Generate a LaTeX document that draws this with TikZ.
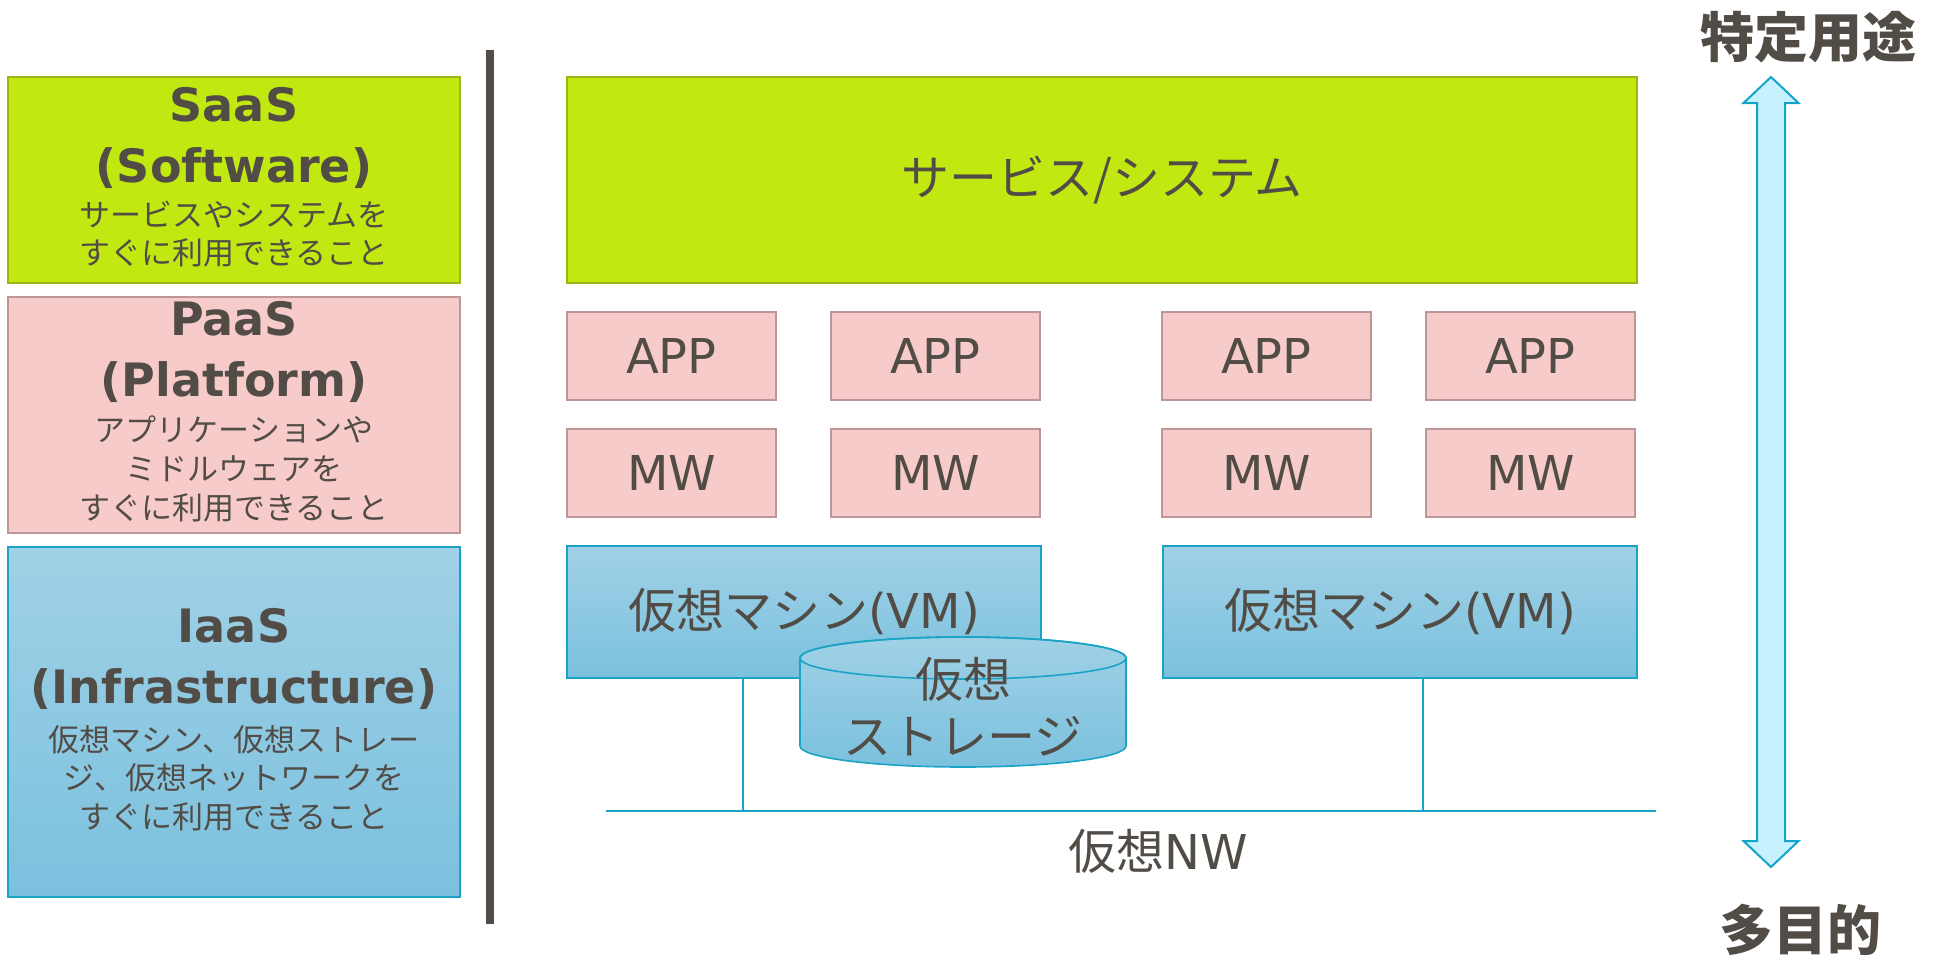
\documentclass[tikz,border=0pt]{standalone}
\usepackage{fontspec}
\setmainfont{DejaVu Sans}
\newfontfamily\jpfont{Noto Sans CJK JP}
\usepackage{tikz}
\usetikzlibrary{positioning}
\definecolor{textgray}{HTML}{524C47}
\definecolor{greenfill}{HTML}{C2E812}
\definecolor{greenline}{HTML}{99B814}
\definecolor{pinkfill}{HTML}{F8CBCB}
\definecolor{pinkline}{HTML}{BD9797}
\definecolor{bluetop}{HTML}{A0D1E6}
\definecolor{bluebot}{HTML}{7BC1DE}
\definecolor{blueline}{HTML}{1BA3C6}
\definecolor{arrowfill}{HTML}{C7F1FC}
\definecolor{arrowline}{HTML}{12A5CA}
\tikzstyle{saasstyle} = [draw=greenline, fill=greenfill, line width=1pt]
\tikzstyle{paasstyle} = [draw=pinkline, fill=pinkfill, line width=1pt]
\tikzstyle{iaasstyle} = [draw=blueline, top color=bluetop, bottom color=bluebot, line width=0.8pt]
\tikzstyle{layer} = [rectangle, inner sep=0pt, outer sep=0pt, text=textgray, font=\fontsize{24}{28}\selectfont]
\tikzstyle{leftbox} = [layer, minimum width=226pt, anchor=north west]
\tikzstyle{small} = [layer, minimum width=104.5pt, minimum height=44pt]
\tikzstyle{title} = [text=textgray, align=center, font=\bfseries\fontsize{23}{30.5}\selectfont]
\tikzstyle{desc} = [text=textgray, align=center, font=\jpfont\fontsize{15.5}{19.3}\selectfont]
\tikzstyle{bigjp} = [text=textgray, align=center, font=\jpfont\fontsize{24}{28.5}\selectfont]
\tikzstyle{endlabel} = [text=textgray, font=\jpfont\bfseries\fontsize{27}{30}\selectfont]
\tikzstyle{netline} = [draw=blueline, line width=0.6pt]
\tikzstyle{bigarrow} = [draw=arrowline, fill=arrowfill, line width=1pt]

\begin{document}
\begin{tikzpicture}[x=0.5pt, y=-0.5pt]
		\useasboundingbox (0,0) rectangle (1945,955);
		% left column
		\node (saas) [leftbox, saasstyle, minimum height=103pt] at (8,77) {};
		\node (paas) [leftbox, paasstyle, minimum height=118pt, below=7pt of saas] {};
		\node (iaas) [leftbox, iaasstyle, minimum height=175pt, below=7pt of paas] {};
		\node (saasT) [title] at (234,138) {SaaS\\(Software)};
		\node (saasD) [desc] at (234,234) {サービスやシステムを\\すぐに利用できること};
		\node (paasT) [title] at (234,352) {PaaS\\(Platform)};
		\node (paasD) [desc] at (234,469) {アプリケーションや\\ミドルウェアを\\すぐに利用できること};
		\node (iaasT) [title] at (234,659) {IaaS\\(Infrastructure)};
		\node (iaasD) [desc] at (234,778) {仮想マシン、仮想ストレー\\ジ、仮想ネットワークを\\すぐに利用できること};
		
		\draw [line width=4pt, textgray] (490,50) -- (490,924);
		
		% right side
		\node (svc) [layer, saasstyle, bigjp, anchor=north west, minimum width=535pt, minimum height=103pt] at (567,77) {サービス/システム};
		\node (app1) [small, paasstyle, anchor=north west] at (567,312) {APP};
		\node (app2) [small, paasstyle, right=27.5pt of app1] {APP};
		\node (app3) [small, paasstyle, right=61pt of app2] {APP};
		\node (app4) [small, paasstyle, right=27.5pt of app3] {APP};
		\node (mw1) [small, paasstyle, below=14.5pt of app1] {MW};
		\node (mw2) [small, paasstyle, below=14.5pt of app2] {MW};
		\node (mw3) [small, paasstyle, below=14.5pt of app3] {MW};
		\node (mw4) [small, paasstyle, below=14.5pt of app4] {MW};
		\node (vm1) [layer, iaasstyle, anchor=north west, minimum width=237pt, minimum height=66pt] at (567,546) {{\jpfont 仮想マシン}(VM)};
		\node (vm2) [layer, iaasstyle, minimum width=237pt, minimum height=66pt, right=61pt of vm1] {{\jpfont 仮想マシン}(VM)};
		
		% storage
		\path [iaasstyle] (800,658) -- (800,746) arc [start angle=180, end angle=360, x radius=81.5pt, y radius=10.5pt] -- (1126,658) arc [start angle=0, end angle=180, x radius=81.5pt, y radius=10.5pt] -- cycle;
		\draw [draw=blueline, line width=0.8pt] (963,658) ellipse [x radius=81.5pt, y radius=10.5pt];
		\node (stor) [bigjp] at (963,707) {仮想\\ストレージ};
		
		% network
		\coordinate (nwL) at (606,811);
		\coordinate (nwR) at (1656,811);
		\coordinate (nw1) at (743,811);
		\coordinate (nw2) at (1423,811);
		\draw [netline] (nwL) -- (nwR);
		\draw [netline] (vm1.south -| nw1) -- (nw1);
		\draw [netline] (vm2.south -| nw2) -- (nw2);
		\node (nwlabel) [layer] at (1158,851) {{\jpfont 仮想}NW};
		
		% scale arrow
		\draw [bigarrow] (1771,77) -- (1798.5,103) -- (1785,103) -- (1785,841) -- (1798.5,841) -- (1771,867) -- (1743.5,841) -- (1757,841) -- (1757,103) -- (1743.5,103) -- cycle;
		\node (special) [endlabel] at (1808,37) {特定用途};
		\node (general) [endlabel] at (1800,930) {多目的};
		\end{tikzpicture}
\end{document}
